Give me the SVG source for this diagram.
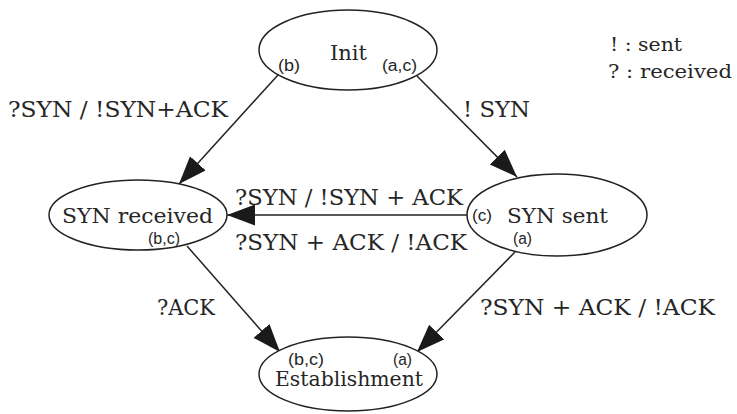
<svg xmlns="http://www.w3.org/2000/svg" width="737" height="414" viewBox="0 0 737 414">
  <style>
    .state { fill: #ffffff; stroke: #222222; stroke-width: 1.5; }
    .name { font-family: "DejaVu Serif", "Liberation Serif", serif; font-size: 21px; fill: #262626; }
    .tag { font-family: "Liberation Sans", Arial, sans-serif; font-size: 16px; fill: #262626; }
    .event { font-family: "DejaVu Serif", "Liberation Serif", serif; font-size: 22px; fill: #262626; }
    .legend { font-family: "DejaVu Serif", "Liberation Serif", serif; font-size: 19px; fill: #262626; }
    .edge { fill: none; stroke: #222222; stroke-width: 1.5; marker-end: url(#head); }
  </style>
  <defs>
    <marker id="head" markerUnits="userSpaceOnUse" markerWidth="29" markerHeight="22" refX="28" refY="10.5" orient="auto">
      <path d="M0,0 L28,10.5 L0,21 z" fill="#1a1a1a"/>
    </marker>
  </defs>
  <rect width="737" height="414" fill="#ffffff"/>

  <!-- transitions -->
  <g id="connectors">
    <line class="edge" x1="278" y1="75" x2="179" y2="184"/>
    <line class="edge" x1="417" y1="76" x2="517" y2="177"/>
    <line class="edge" x1="467" y1="215" x2="227" y2="215"/>
    <line class="edge" x1="187" y1="246" x2="280" y2="352"/>
    <line class="edge" x1="515" y1="252" x2="417" y2="352"/>
  </g>

  <g id="init">
    <ellipse class="state" cx="348" cy="50" rx="89" ry="40"/>
    <text class="name" x="330" y="60" textLength="37" lengthAdjust="spacingAndGlyphs">Init</text>
    <text class="tag" x="278" y="71" textLength="22" lengthAdjust="spacingAndGlyphs">(b)</text>
    <text class="tag" x="382" y="71" textLength="35" lengthAdjust="spacingAndGlyphs">(a,c)</text>
  </g>

  <g id="syn-received">
    <ellipse class="state" cx="138" cy="215" rx="89" ry="35"/>
    <text class="name" x="62" y="223" textLength="151" lengthAdjust="spacingAndGlyphs">SYN received</text>
    <text class="tag" x="148" y="244" textLength="32" lengthAdjust="spacingAndGlyphs">(b,c)</text>
  </g>

  <g id="syn-sent">
    <ellipse class="state" cx="557" cy="215" rx="90" ry="41"/>
    <text class="tag" x="472" y="221" textLength="20" lengthAdjust="spacingAndGlyphs">(c)</text>
    <text class="name" x="507" y="223" textLength="101" lengthAdjust="spacingAndGlyphs">SYN sent</text>
    <text class="tag" x="513" y="244" textLength="19" lengthAdjust="spacingAndGlyphs">(a)</text>
  </g>

  <g id="establishment">
    <ellipse class="state" cx="348" cy="374" rx="89" ry="37"/>
    <text class="tag" x="288" y="365" textLength="36" lengthAdjust="spacingAndGlyphs">(b,c)</text>
    <text class="tag" x="393" y="365" textLength="19" lengthAdjust="spacingAndGlyphs">(a)</text>
    <text class="name" x="275" y="386" textLength="148" lengthAdjust="spacingAndGlyphs">Establishment</text>
  </g>

  <!-- transition labels -->
  <g id="labels">
    <text class="event" x="8" y="117" textLength="220" lengthAdjust="spacingAndGlyphs">?SYN / !SYN+ACK</text>
    <text class="event" x="463" y="117" textLength="67" lengthAdjust="spacingAndGlyphs">! SYN</text>
    <text class="event" x="235" y="205" textLength="228" lengthAdjust="spacingAndGlyphs">?SYN / !SYN + ACK</text>
    <text class="event" x="235" y="250" textLength="232" lengthAdjust="spacingAndGlyphs">?SYN + ACK / !ACK</text>
    <text class="event" x="157" y="315" textLength="58" lengthAdjust="spacingAndGlyphs">?ACK</text>
    <text class="event" x="480" y="315" textLength="235" lengthAdjust="spacingAndGlyphs">?SYN + ACK / !ACK</text>
  </g>

  <g id="legend">
    <text class="legend" x="610" y="51" textLength="72" lengthAdjust="spacingAndGlyphs">! : sent</text>
    <text class="legend" x="608" y="78" textLength="124" lengthAdjust="spacingAndGlyphs">? : received</text>
  </g>
</svg>
